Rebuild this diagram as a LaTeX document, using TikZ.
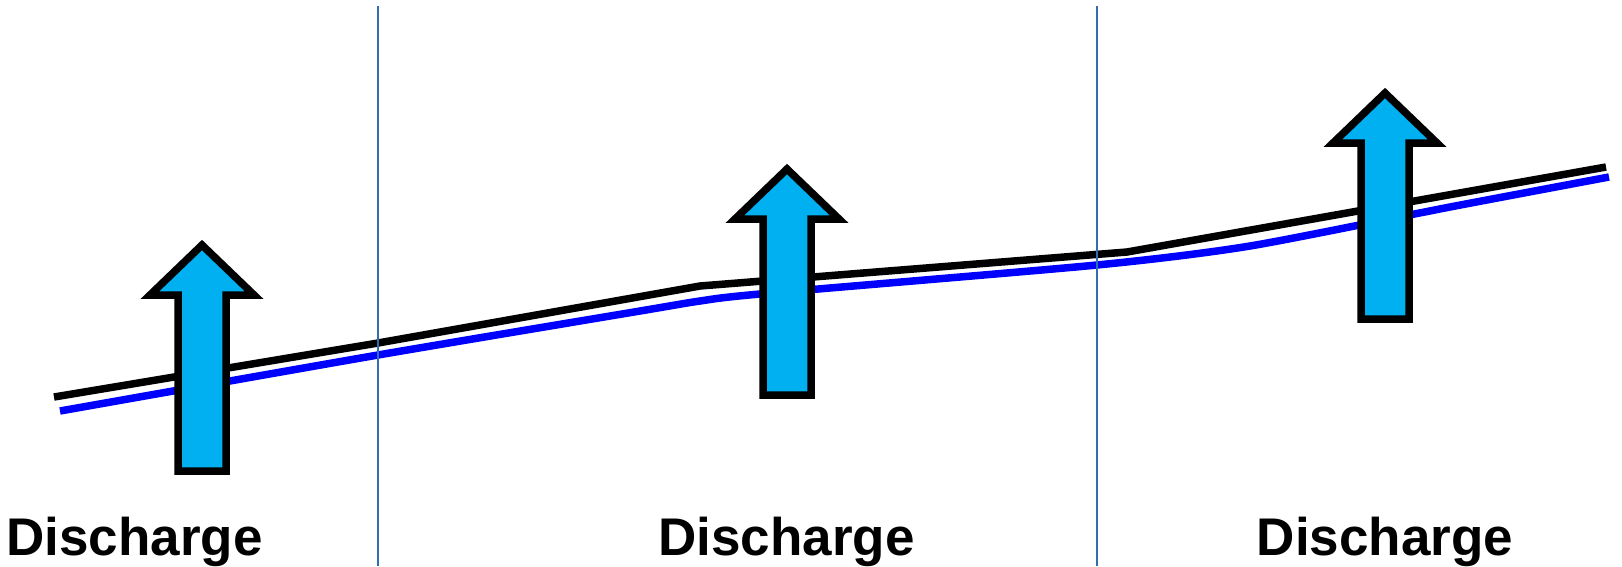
\documentclass[tikz,border=0pt]{standalone}
\usepackage{fontspec}
\setmainfont{Liberation Sans}
\usetikzlibrary{positioning}
\definecolor{arrowfill}{HTML}{00B0F0}
\definecolor{divider}{HTML}{2F6EB0}
\definecolor{levelblue}{HTML}{0000FF}

\begin{document}
\begin{tikzpicture}[x=1pt,y=-1pt,
label/.style={inner sep=0pt,anchor=base,font=\fontsize{53}{60}\selectfont\bfseries},
level/.style={line width=7.5pt,line join=round},
divline/.style={divider,line width=2pt},
pics/flowarrow/.style={code={
\draw[line width=7.5pt,miter limit=10,fill=arrowfill]
(-24,0) -- (-24,-176) -- (-52,-176) -- (0,-226) -- (52,-176) -- (24,-176) -- (24,0) -- cycle;}}]
\fill[white] (0,0) rectangle (1622,566);
\useasboundingbox (0,0) rectangle (1622,566);
% water levels
\draw[level,black]
(54,397) -- (378,343) -- (700,286) -- (1127,252) -- (1606,167);
\draw[level,levelblue]
plot[smooth,tension=0.4] coordinates {(60,411) (378,355) (640,311) (700,301) (760,294) (1097,265) (1250,246) (1450,207) (1609,177)};
% dividers
\coordinate (d1top) at (378,6);
\coordinate (d1bot) at (378,566);
\coordinate (d2top) at (1097,6);
\coordinate (d2bot) at (1097,566);
\draw[divline] (d1top) -- (d1bot);
\draw[divline] (d2top) -- (d2bot);
% arrows
\pic at (202,471) {flowarrow};
\pic at (787,395) {flowarrow};
\pic at (1385,319) {flowarrow};
% labels
\node[label] (dis1) at (134.5,555) {Discharge};
\node[label] (dis2) at (786.5,555) {Discharge};
\node[label] (dis3) at (1385,555) {Discharge};
\end{tikzpicture}
\end{document}
